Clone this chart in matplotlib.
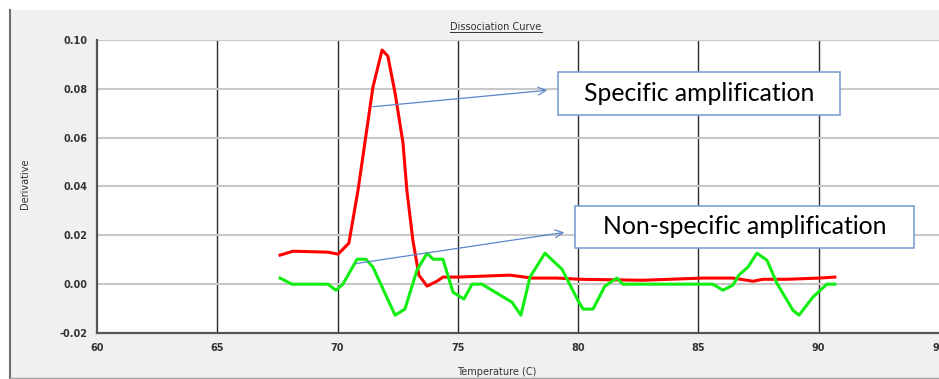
import matplotlib
matplotlib.use("Agg")
import matplotlib.pyplot as plt
from matplotlib.lines import Line2D
from matplotlib.patches import Rectangle

# red: specific product, green: non-specific product
temp_red = [67.61, 68.15, 69.60, 70.02, 70.47, 70.85, 71.47, 71.85, 72.09, 72.39,
            72.72, 72.88, 73.13, 73.38, 73.72, 74.13, 74.38, 75.00, 77.17, 78.08,
            79.12, 80.08, 82.69, 85.19, 86.43, 87.27, 87.68, 88.68, 90.05, 90.67]
deriv_red = [0.0119, 0.0135, 0.0131, 0.0123, 0.0168, 0.0385, 0.0807, 0.0959, 0.0934, 0.0783,
             0.0578, 0.0385, 0.0180, 0.0037, -0.0008, 0.0012, 0.0029, 0.0029, 0.0037, 0.0025,
             0.0025, 0.0020, 0.0016, 0.0025, 0.0025, 0.0012, 0.0020, 0.0020, 0.0025, 0.0029]

temp_green = [67.61, 68.10, 69.60, 69.93, 70.22, 70.81, 71.18, 71.47, 72.39, 72.80,
              73.30, 73.72, 73.97, 74.38, 74.80, 75.25, 75.59, 76.00, 77.25, 77.62,
              78.00, 78.62, 79.33, 79.99, 80.20, 80.62, 81.11, 81.61, 81.86, 85.60,
              86.02, 86.43, 86.68, 87.06, 87.43, 87.85, 88.26, 88.93, 89.18, 89.76,
              90.34, 90.67]
deriv_green = [0.0025, 0.0, 0.0, -0.0025, 0.0, 0.0102, 0.0102, 0.0070, -0.0127, -0.0102,
               0.0057, 0.0127, 0.0102, 0.0102, -0.0033, -0.0061, 0.0, 0.0, -0.0074, -0.0127,
               0.0029, 0.0127, 0.0061, -0.0066, -0.0102, -0.0102, -0.0008, 0.0025, 0.0, 0.0,
               -0.0025, -0.0004, 0.0037, 0.0070, 0.0127, 0.0098, 0.0004, -0.0107, -0.0127, -0.0053,
               0.0, 0.0]

x_ticks = [60, 65, 70, 75, 80, 85, 90, 95]
y_ticks = [-0.02, 0.00, 0.02, 0.04, 0.06, 0.08, 0.10]

W, H = 939, 379
fig = plt.figure(figsize=(W / 100, H / 100), dpi=100)


def fx(px):
    return px / W


def fy(py):
    return 1 - py / H


# grey panel behind the chart
fig.patches.append(Rectangle((fx(10), 0), 1 - fx(10), fy(10), transform=fig.transFigure,
                             facecolor="#f0f0f0", edgecolor="none", zorder=-1))
fig.add_artist(Line2D([fx(10), fx(10)], [0, fy(10)], color="#707070", lw=1.5))
fig.add_artist(Line2D([fx(10), 1], [fy(378), fy(378)], color="#a0a0a0", lw=1))

ax = fig.add_axes([fx(97), fy(333), 1 - fx(97), fy(40) - fy(333)])
ax.set_zorder(1)
ax.set_facecolor("white")
ax.set_xlim(60, 95)
ax.set_ylim(-0.02, 0.10)
ax.set_xticks(x_ticks)
ax.set_yticks(y_ticks)
ax.set_yticklabels([f"{v:.2f}" for v in y_ticks])
ax.tick_params(length=0, labelsize=7, labelcolor="#333333", pad=7)
for lab in ax.get_xticklabels() + ax.get_yticklabels():
    lab.set_fontweight("bold")

for v in x_ticks[1:-1]:
    ax.axvline(v, color="#2a2a2a", lw=1, zorder=1)
for v in y_ticks[1:]:
    ax.axhline(v, color="#c8c8c8", lw=1.5, zorder=1)

for side in ["top", "right"]:
    ax.spines[side].set_visible(False)
for side in ["left", "bottom"]:
    ax.spines[side].set_color("#555555")
    ax.spines[side].set_linewidth(1.6)

ax.plot(temp_red, deriv_red, color="#ff0000", lw=2.2, zorder=3)
ax.plot(temp_green, deriv_green, color="#11ee11", lw=2.2, zorder=3)

# callouts
arrow_kw = dict(arrowstyle="->", color="#5b86c8", lw=0.9, mutation_scale=14)
ax.annotate("", xy=(fx(550), fy(90)), xycoords="figure fraction",
            xytext=(fx(370), fy(107)), textcoords="figure fraction", arrowprops=arrow_kw, zorder=4)
ax.annotate("", xy=(fx(567), fy(232)), xycoords="figure fraction",
            xytext=(fx(353), fy(264)), textcoords="figure fraction", arrowprops=arrow_kw, zorder=4)

for (l, t, r, b), label in [((558, 72, 840, 115), "Specific amplification"),
                            ((575, 206, 914, 248), "Non-specific amplification")]:
    fig.add_artist(Rectangle((fx(l), fy(b)), fx(r - l), fy(t) - fy(b), transform=fig.transFigure,
                             facecolor="white", edgecolor="#7f9fd0", lw=1.2, zorder=5))
    fig.text(fx((l + r) / 2), fy((t + b) / 2), label, ha="center", va="center",
             fontsize=17.8, family="Lato", color="black", zorder=6)

title = fig.text(fx(496), fy(27), "Dissociation Curve", ha="center", va="center",
                 fontsize=7, color="#333333")
fig.text(fx(25), fy(184), "Derivative", ha="center", va="center", rotation=90,
         fontsize=7, color="#333333")
fig.text(fx(497), fy(372), "Temperature (C)", ha="center", va="center",
         fontsize=7, color="#333333")

# underline the title
fig.canvas.draw()
bb = title.get_window_extent().transformed(fig.transFigure.inverted())
fig.add_artist(Line2D([bb.x0, bb.x1], [bb.y0, bb.y0], color="#333333", lw=0.7))

fig.savefig("out.png", dpi=100)
